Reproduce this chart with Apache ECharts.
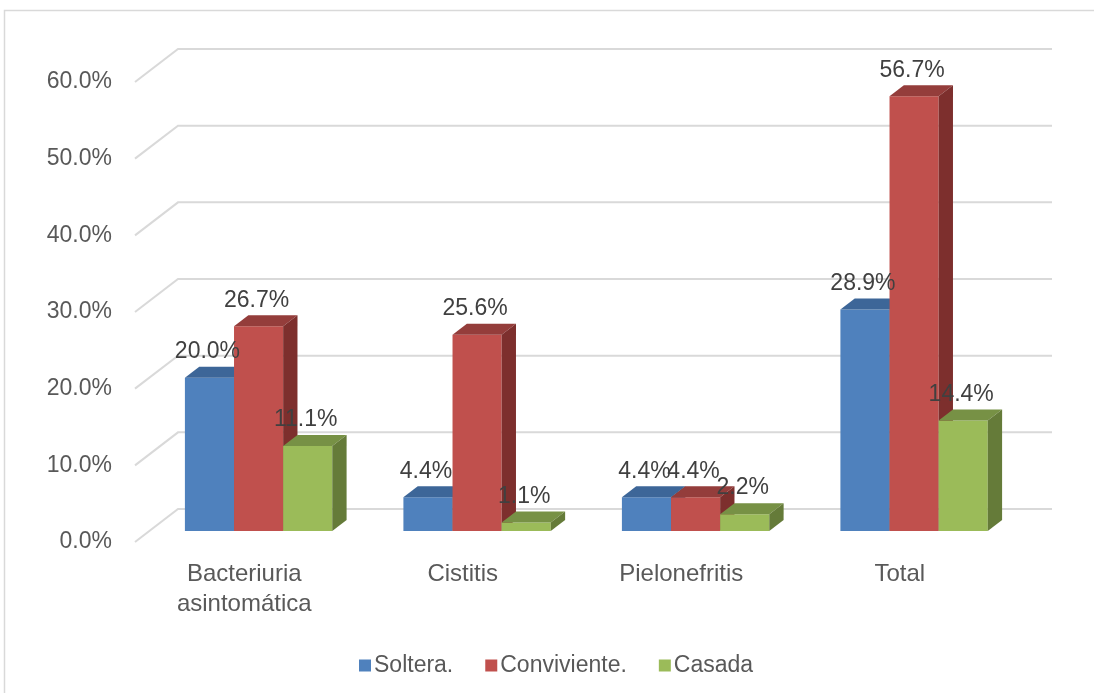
<!DOCTYPE html>
<html>
<head>
<meta charset="utf-8">
<script src="https://cdn.jsdelivr.net/npm/echarts@6/dist/echarts.min.js"></script>
<style>
html,body{margin:0;padding:0;background:#fff;}
#chart{width:1094px;height:693px;}
</style>
</head>
<body>
<div id="chart"></div>
<script>
// ---- data ----
const categories = ['Bacteriuria\nasintomática', 'Cistitis', 'Pielonefritis', 'Total'];
const seriesNames = ['Soltera.', 'Conviviente.', 'Casada'];
const soltera = [20.0, 4.4, 4.4, 28.9];
const conviviente = [26.7, 25.6, 4.4, 56.7];
const casada = [11.1, 1.1, 2.2, 14.4];
const yTicks = [0, 10, 20, 30, 40, 50, 60];

// ---- style ----
const FONT = "'Liberation Sans', Arial, sans-serif";
const palette = [
  { front: '#4F81BD', top: '#3D6698', side: '#2F4F76' },
  { front: '#C0504D', top: '#943D3B', side: '#7D2F2D' },
  { front: '#9BBB59', top: '#779145', side: '#657B39' }
];
const DEPTH_X = 43, DEPTH_Y = -33;       // full floor depth
const SHIFT_X = DEPTH_X / 3, SHIFT_Y = DEPTH_Y / 3; // bar plane / bar depth
const BAR_FRAC = 0.2248;

const allSeries = [soltera, conviviente, casada];

function barGeom(api, si) {
  const idx = api.value(0), val = api.value(1);
  const top = api.coord([idx, val]);
  const base = api.coord([idx, 0]);
  const band = api.size([1, 0])[0];
  const bw = band * BAR_FRAC;
  const x0 = top[0] + SHIFT_X + (si - 1.5) * bw;
  const yT = top[1] + SHIFT_Y;
  const yB = base[1] + SHIFT_Y;
  return { x0, yT, yB, bw };
}

function makeBarSeries(si) {
  return {
    type: 'custom',
    name: seriesNames[si],
    z: 3 + si,
    data: allSeries[si].map((v, i) => [i, v]),
    encode: { x: 0, y: 1 },
    itemStyle: { color: palette[si].front },
    renderItem: function (params, api) {
      const g = barGeom(api, si);
      const c = palette[si];
      const { x0, yT, yB, bw } = g;
      return {
        type: 'group',
        children: [
          { type: 'rect', shape: { x: x0, y: yT, width: bw, height: yB - yT }, style: { fill: c.front } },
          { type: 'polygon', shape: { points: [[x0, yT], [x0 + SHIFT_X, yT + SHIFT_Y], [x0 + bw + SHIFT_X, yT + SHIFT_Y], [x0 + bw, yT]] }, style: { fill: c.top } },
          { type: 'polygon', shape: { points: [[x0 + bw, yT], [x0 + bw + SHIFT_X, yT + SHIFT_Y], [x0 + bw + SHIFT_X, yB + SHIFT_Y], [x0 + bw, yB]] }, style: { fill: c.side } }
        ]
      };
    }
  };
}

function makeLabelSeries(si) {
  return {
    type: 'custom',
    name: seriesNames[si],
    z: 10,
    silent: true,
    data: allSeries[si].map((v, i) => [i, v]),
    encode: { x: 0, y: 1 },
    renderItem: function (params, api) {
      const g = barGeom(api, si);
      return {
        type: 'text',
        style: {
          x: g.x0 + g.bw / 2 - 2,
          y: g.yT + SHIFT_Y - 15,
          text: api.value(1).toFixed(1) + '%',
          fill: '#404040',
          font: '23px ' + FONT,
          align: 'center',
          verticalAlign: 'middle'
        }
      };
    }
  };
}

const gridSeries = {
  type: 'custom',
  z: 1,
  silent: true,
  data: yTicks.map(v => [0, v]),
  encode: { x: 0, y: 1 },
  renderItem: function (params, api) {
    const cs = params.coordSys;
    const y = api.coord([0, api.value(1)])[1];
    return {
      type: 'polyline',
      shape: { points: [[cs.x, y], [cs.x + DEPTH_X, y + DEPTH_Y], [cs.x + cs.width + DEPTH_X, y + DEPTH_Y]] },
      style: { stroke: '#d9d9d9', lineWidth: 2, fill: null }
    };
  }
};

const chart = echarts.init(document.getElementById('chart'), null, { renderer: 'canvas' });
chart.setOption({
  animation: false,
  backgroundColor: '#fff',
  textStyle: { fontFamily: FONT },
  graphic: [{
    type: 'rect', silent: true, z: 0,
    shape: { x: 4.5, y: 10.5, width: 1300, height: 900 },
    style: { fill: null, stroke: '#d9d9d9', lineWidth: 1.5 }
  }],
  grid: { left: 135, right: 85, top: 82, bottom: 151 },
  xAxis: {
    type: 'category',
    data: categories,
    axisLine: { show: false },
    axisTick: { show: false },
    splitLine: { show: false },
    axisLabel: { color: '#595959', fontSize: 24, lineHeight: 30, margin: 17, fontFamily: FONT, interval: 0 }
  },
  yAxis: {
    type: 'value',
    min: 0, max: 60, interval: 10,
    axisLine: { show: false },
    axisTick: { show: false },
    splitLine: { show: false },
    axisLabel: { color: '#595959', fontSize: 23, margin: 23, fontFamily: FONT, formatter: v => v.toFixed(1) + '%' }
  },
  legend: {
    data: seriesNames,
    left: 354, top: 649,
    icon: 'rect', itemWidth: 12, itemHeight: 12, itemGap: 32,
    textStyle: { color: '#595959', fontSize: 23, fontFamily: FONT, padding: [0, 0, 0, -2] }
  },
  series: [gridSeries, makeBarSeries(0), makeBarSeries(1), makeBarSeries(2),
           makeLabelSeries(0), makeLabelSeries(1), makeLabelSeries(2)]
});
</script>
</body>
</html>
